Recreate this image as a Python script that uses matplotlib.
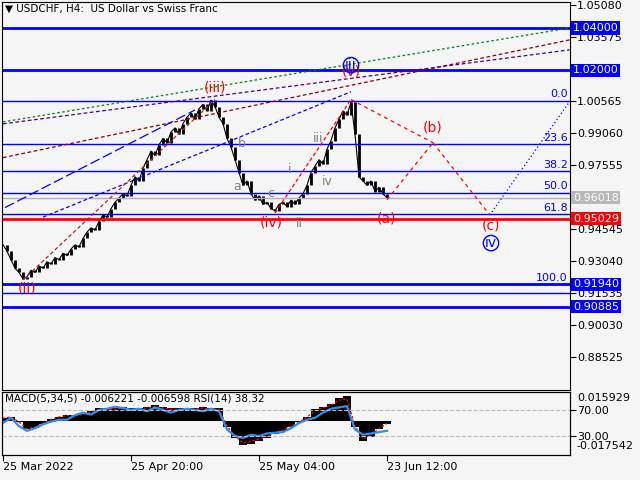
import numpy as np
import matplotlib
matplotlib.use("Agg")
import matplotlib.pyplot as plt
import matplotlib.transforms as mtransforms

# ── Data ─────────────────────────────────────────────────────────
closes = [0.938, 0.935, 0.931, 0.927, 0.925, 0.922,
          0.923, 0.926, 0.925, 0.928, 0.927, 0.930, 0.929, 0.932, 0.931,
          0.934, 0.933, 0.936, 0.938, 0.937, 0.941, 0.944, 0.946,
          0.945, 0.949, 0.952, 0.951, 0.955, 0.958, 0.960, 0.962,
          0.961, 0.966, 0.970, 0.968, 0.974, 0.978, 0.982, 0.980,
          0.985, 0.988, 0.986, 0.991, 0.993, 0.990, 0.995, 0.998,
          1.000, 0.997, 1.002, 1.004, 1.001, 1.006, 1.003,
          0.998, 0.995, 0.988, 0.984, 0.978, 0.972, 0.966,
          0.968, 0.962, 0.959, 0.961, 0.957, 0.958, 0.955, 0.954,
          0.957, 0.958, 0.956, 0.959, 0.957, 0.960, 0.962,
          0.966, 0.972, 0.975, 0.978, 0.976, 0.983, 0.987,
          0.993, 0.997, 1.001, 0.999, 1.005,
          0.990, 0.970, 0.968, 0.966, 0.968, 0.963, 0.965, 0.962, 0.960]

# MACD histogram (x0.001) and RSI, every 2 bars
macd_hist = [2, 3, -1, -6, -5, -2, 1, 3, 4, 4, 5, 7, 9, 9, 9, 10, 9, 9, 10, 11, 10, 9, 9, 9, 9,
             10, 9, 9, -4, -12, -17, -16, -14, -12, -9, -7, -4, -1, 3, 8, 10, 12, 16, 17, -4, -14, -11, -6, -2]
rsi = [50, 58, 45, 38, 42, 48, 52, 55, 55, 62, 66, 63, 70, 72, 75, 73, 70, 72, 68, 74, 70, 66, 70, 72, 70,
       68, 72, 68, 40, 30, 27, 32, 30, 34, 35, 36, 42, 50, 55, 58, 66, 72, 74, 76, 40, 32, 34, 36, 38]

levels_thick = [1.04000, 1.02000, 0.91940, 0.90885]
fib_prices = [1.00565, 0.98530, 0.97270, 0.96253, 0.95235, 0.91940]
fib_names = ["0.0", "23.6", "38.2", "50.0", "61.8", "100.0"]
price_now = 0.96018
target = 0.95029
ticks = [1.05080, 1.03575, 1.00565, 0.99060, 0.97555, 0.94545, 0.93040, 0.91535, 0.90030, 0.88525]
date_pos = [0, 32, 64, 96]
date_labels = ["25 Mar 2022", "25 Apr 20:00", "25 May 04:00", "23 Jun 12:00"]

# trend lines: (bar0, price0, bar1, price1, color, style)
trend_lines = [
    (0, 0.9958, 141.7, 1.0400, "green", (0, (2, 2))),
    (0, 0.9949, 141.7, 1.0297, "indigo", (0, (3, 2))),
    (0, 0.9790, 141.7, 1.0344, "darkred", (0, (3, 2))),
    (0.5, 0.9555, 48, 1.0014, "blue", (0, (8, 3))),
    (10, 0.9510, 87, 1.0100, "blue", (0, (3, 2))),
    (5, 0.9215, 53, 1.0063, "brown", (0, (3, 2))),
    (68, 0.9530, 87, 1.0063, "red", (0, (3, 2))),
    (87, 1.0063, 107.5, 0.9860, "red", (0, (3, 3))),
    (96, 0.9592, 107.5, 0.9860, "red", (0, (3, 3))),
    (107.5, 0.9860, 121.7, 0.9520, "red", (0, (3, 3))),
    (121.7, 0.9520, 141.7, 1.0055, "blue", (0, (1, 2))),
]

# wave labels: (bar, price, text, color, circled)
waves = [
    (53, 1.0122, "(iii)", "red", False), (6, 0.9175, "(ii)", "red", False),
    (67, 0.9485, "(iv)", "red", False), (87, 1.0195, "(v)", "red", False),
    (87, 1.0225, "iii", "blue", True), (96, 0.9505, "(a)", "red", False),
    (107.5, 0.9930, "(b)", "red", False), (122, 0.9470, "(c)", "red", False),
    (122, 0.9388, "iv", "blue", True),
    (58.5, 0.9655, "a", "gray", False), (59.7, 0.9855, "b", "gray", False),
    (67, 0.9620, "c", "gray", False), (71.7, 0.9735, "i", "gray", False),
    (74.2, 0.9482, "ii", "gray", False), (78.7, 0.9880, "iii", "gray", False),
    (81, 0.9680, "iv", "gray", False),
]

BG = "#f5f5f5"
fig = plt.figure(figsize=(6.4, 4.8), dpi=100, facecolor=BG)
ax = fig.add_axes([2/640, 1-390/480, 568/640, 388/480], facecolor=BG)
ax2 = fig.add_axes([2/640, 1-455/480, 568/640, 63/480], facecolor=BG)

x = np.arange(len(closes))
opens = [closes[0]] + closes[:-1]
ax.vlines(x, opens, closes, color="black", lw=2)
ax.plot(x, closes, color="black", lw=0.8)

for p in levels_thick:
    ax.axhline(p, color="blue", lw=2)
ax.axhline(0.91535, color="blue", lw=1)
for p, n in zip(fib_prices, fib_names):
    ax.axhline(p, color="blue", lw=1)
    ax.text(141.2, p + 0.0007, n, color="blue", fontsize=8, ha="right", va="bottom")
ax.axhline(price_now, color="#b0b0b0", lw=1)
ax.axhline(target, color="red", lw=2)

for b0, p0, b1, p1, c, ls in trend_lines:
    ax.plot([b0, b1], [p0, p1], color=c, lw=0.9, linestyle=ls)

for b, p, t, c, circ in waves:
    kw = {}
    if circ:
        kw["bbox"] = dict(boxstyle="circle,pad=0.05", fc="none", ec="blue", lw=1)
    ax.text(b, p, t, color=c, fontsize=10 if c != "gray" else 9, ha="center", va="center", **kw)

ax.set_xlim(-0.25, 141.75)
ax.set_ylim(0.8697, 1.0522)
ax.yaxis.tick_right()
ax.set_yticks(ticks)
ax.set_yticklabels([f"{t:.5f}" for t in ticks], fontsize=8)
ax.set_xticks([])
ax.tick_params(axis="y", length=4, pad=1)

tr = mtransforms.blended_transform_factory(ax.transAxes, ax.transData)
for p, fc, tc in [(1.04, "blue", "white"), (1.02, "blue", "white"), (0.9194, "blue", "white"),
                  (0.90885, "blue", "white"), (price_now, "#b8b8b8", "white"), (target, "red", "white")]:
    ax.text(1.005, p, f"{p:.5f}", transform=tr, fontsize=8, color=tc, va="center", ha="left",
            bbox=dict(boxstyle="square,pad=0.15", fc=fc, ec="none"), clip_on=False)

ax.text(0.005, 0.995, "▼ USDCHF, H4:  US Dollar vs Swiss Franc", transform=ax.transAxes,
        fontsize=7.5, va="top", ha="left")

# ── MACD / RSI panel ─────────────────────────────────────────────
xs = np.arange(len(macd_hist)) * 2
hist = np.array(macd_hist) * 0.001
ax2.bar(xs, hist, width=2.1, color="black")
ax2.plot(xs, hist * 0.9, color="red", lw=0.9, linestyle=(0, (2, 1.5)))
ax2.set_ylim(-0.02379, 0.02011)
ax2.set_xlim(-0.25, 141.75)
ax3 = ax2.twinx()
ax3.plot(xs, rsi, color="#2e8ef0", lw=1.6)
ax3.set_ylim(0.8, 97.7)
ax3.axhline(70, color="#bbbbbb", lw=0.8, ls="--")
ax3.axhline(30, color="#bbbbbb", lw=0.8, ls="--")
ax3.set_yticks([70, 30])
ax3.set_yticklabels(["70.00", "30.00"], fontsize=8)
ax3.tick_params(axis="y", length=4, pad=1)
ax2.set_yticks([])
tr2 = mtransforms.blended_transform_factory(ax2.transAxes, ax2.transData)
ax2.text(1.012, 0.015929, "0.015929", transform=tr2, fontsize=8, va="center")
ax2.text(1.012, -0.017542, "-0.017542", transform=tr2, fontsize=8, va="center")
ax2.text(0.005, 0.97, "MACD(5,34,5) -0.006221 -0.006598 RSI(14) 38.32",
         transform=ax2.transAxes, fontsize=7.5, va="top")
ax2.set_xticks(date_pos)
ax2.set_xticklabels(date_labels, fontsize=8, ha="left")
ax2.tick_params(axis="x", length=4, pad=1)

fig.savefig("out.png", dpi=100, facecolor=BG)
